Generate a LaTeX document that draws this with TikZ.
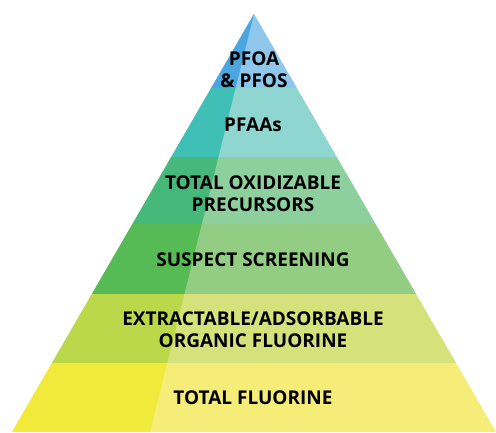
\documentclass[tikz,border=0pt]{standalone}
\usepackage{fontspec}
\newfontfamily\lblfont{Open Sans}
\definecolor{t1d}{HTML}{4BA6E0}\definecolor{t1l}{HTML}{8EC6EC}
\definecolor{t2d}{HTML}{3FBFB5}\definecolor{t2l}{HTML}{8ED6CF}
\definecolor{t3d}{HTML}{46B87A}\definecolor{t3l}{HTML}{8ECF9E}
\definecolor{t4d}{HTML}{57BB55}\definecolor{t4l}{HTML}{93CD84}
\definecolor{t5d}{HTML}{BBD84A}\definecolor{t5l}{HTML}{D5E27C}
\definecolor{t6d}{HTML}{F2EA3A}\definecolor{t6l}{HTML}{F5ED77}
\begin{document}
\begin{tikzpicture}[x=1pt,y=-1pt,
  tierlabel/.style={font=\lblfont\bfseries\fontsize{19}{22}\selectfont, align=center, text=black, inner sep=0pt}]
\useasboundingbox (0,0) rectangle (496,432);
\begin{scope}
  \clip (254,14) -- (496,432) -- (12,432) -- cycle;
  \fill[t1l] (0,0) rectangle (496,88);
  \fill[t2l] (0,88) rectangle (496,157);
  \fill[t3l] (0,157) rectangle (496,224);
  \fill[t4l] (0,224) rectangle (496,294);
  \fill[t5l] (0,294) rectangle (496,363);
  \fill[t6l] (0,363) rectangle (496,432);
  \clip (254,14) -- (150,432) -- (0,432) -- (0,0) -- (254,0) -- cycle;
  \fill[t1d] (0,0) rectangle (496,88);
  \fill[t2d] (0,88) rectangle (496,157);
  \fill[t3d] (0,157) rectangle (496,224);
  \fill[t4d] (0,224) rectangle (496,294);
  \fill[t5d] (0,294) rectangle (496,363);
  \fill[t6d] (0,363) rectangle (496,432);
\end{scope}
\node[tierlabel] (pfoa) at (254,70) {PFOA\\\& PFOS};
\node[tierlabel] (pfaa) at (253,125) {PFAAs};
\node[tierlabel] (top) at (253,194) {TOTAL OXIDIZABLE\\PRECURSORS};
\node[tierlabel] (sus) at (253,260) {SUSPECT SCREENING};
\node[tierlabel] (eaof) at (253,330) {EXTRACTABLE/ADSORBABLE\\ORGANIC FLUORINE};
\node[tierlabel] (tf) at (253,398) {TOTAL FLUORINE};
\end{tikzpicture}
\end{document}
